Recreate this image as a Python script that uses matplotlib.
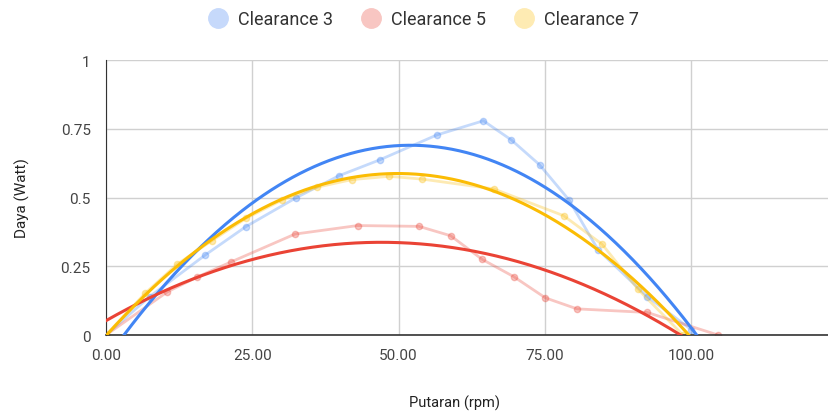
import numpy as np
import matplotlib
matplotlib.use("Agg")
import matplotlib.pyplot as plt
from matplotlib.lines import Line2D

plt.rcParams['font.family'] = ['Roboto', 'DejaVu Sans']

# Measured power curves for three clearance settings
rpm_c3 = [0, 7.5, 16.9, 23.9, 32.4, 39.8, 46.8, 56.5, 64.5, 69.3, 74.1, 79.1, 84.1, 92.5, 100.0]
watt_c3 = [0, 0.14, 0.29, 0.394, 0.498, 0.579, 0.637, 0.727, 0.779, 0.709, 0.619, 0.492, 0.31, 0.14, 0.02]

rpm_c5 = [0, 10.5, 15.5, 21.3, 32.3, 43.0, 53.5, 58.9, 64.3, 69.7, 75.1, 80.5, 92.5, 104.6]
watt_c5 = [0, 0.157, 0.21, 0.265, 0.367, 0.398, 0.395, 0.361, 0.275, 0.212, 0.135, 0.095, 0.082, 0.0]

rpm_c7 = [0, 6.7, 12.2, 18.1, 24.0, 30.0, 36.0, 42.0, 48.4, 54.0, 66.3, 78.2, 84.8, 90.9, 98.6]
watt_c7 = [0, 0.152, 0.258, 0.343, 0.425, 0.49, 0.537, 0.565, 0.577, 0.567, 0.531, 0.434, 0.33, 0.167, 0.0]

series_names = ["Clearance 3", "Clearance 5", "Clearance 7"]
colors = ["#4285F4", "#EA4335", "#FBBC04"]
light_colors = ["#c6d9fb", "#f8c6c2", "#feebb3"]

x_ticks = [0, 25, 50, 75, 100]
x_tick_labels = ["0.00", "25.00", "50.00", "75.00", "100.00"]
y_ticks = [0, 0.25, 0.5, 0.75, 1]
y_tick_labels = ["0", "0.25", "0.5", "0.75", "1"]

fig = plt.figure(figsize=(8.29, 4.14), dpi=100)
ax = fig.add_axes([106 / 829, 1 - 336 / 414, (828 - 106) / 829, (336 - 61) / 414])

xmax = 123.4
xs = np.linspace(0, xmax, 600)
data = [(rpm_c3, watt_c3), (rpm_c5, watt_c5), (rpm_c7, watt_c7)]

for (x, y), c in zip(data, colors):
    ax.plot(x, y, color=c, alpha=0.3, lw=2, marker='o', ms=4.5, zorder=2)

# Second-order polynomial trendlines
for (x, y), c in zip(data, colors):
    coef = np.polyfit(x, y, 2)
    ax.plot(xs, np.polyval(coef, xs), color=c, lw=2.2, zorder=3)

ax.set_xlim(0, xmax)
ax.set_ylim(0, 1)
ax.set_xticks(x_ticks)
ax.set_xticklabels(x_tick_labels)
ax.set_yticks(y_ticks)
ax.set_yticklabels(y_tick_labels)
ax.grid(True, color="#d0d0d0", lw=1)
ax.set_axisbelow(True)
for s in ["top", "right"]:
    ax.spines[s].set_visible(False)
ax.spines["left"].set_color("#333333")
ax.spines["bottom"].set_color("#333333")
ax.spines["bottom"].set_linewidth(1.2)
ax.tick_params(axis='both', length=0, labelsize=11, colors="#444444")
ax.tick_params(axis='x', pad=9)
ax.tick_params(axis='y', pad=11)

fig.text(455 / 829, 1 - 403 / 414, "Putaran (rpm)", ha="center", va="center",
         fontsize=10.5, color="#222222")
fig.text(22 / 829, 1 - 198 / 414, "Daya (Watt)", ha="center", va="center",
         rotation=90, fontsize=11, color="#222222")

handles = [Line2D([], [], ls='none', marker='o', ms=14, color=lc) for lc in light_colors]
fig.legend(handles, series_names, loc="center", bbox_to_anchor=(424 / 829, 1 - 20 / 414),
           ncol=3, frameon=False, fontsize=13, handletextpad=0.6, columnspacing=1.6,
           labelcolor="#333333", handlelength=1.0)

fig.savefig("out.png", dpi=100)
